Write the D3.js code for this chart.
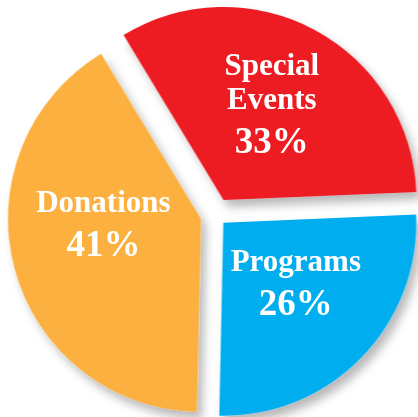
<!DOCTYPE html>
<html>
<head>
<meta charset="utf-8">
<script src="https://cdn.jsdelivr.net/npm/d3@7"></script>
<style>
html, body { margin: 0; padding: 0; background: #fff; overflow: hidden; }
</style>
</head>
<body>
<div id="chart"></div>
<script>
// Data
const CATEGORIES = ["Special Events", "Programs", "Donations"];
const VALUES = [33, 26, 41];
const PCT_LABELS = ["33%", "26%", "41%"];
const NAME_LINES = [["Special", "Events"], ["Programs"], ["Donations"]];
const COLORS = ["#ED1C24", "#00AEEF", "#FBB040"];

// Layout
const svgWidth = 418;
const svgHeight = 417;
const cx = 215.5;
const cy = 215;
const radius = 193;
const startAngle = -31.2 * Math.PI / 180;
const EXPLODE = [17, 11, 15];          // px each slice is pulled out
const LABEL_R = 100;
const LABEL_NUDGE = [[1, 2], [1, 0], [-1, -11]];

const svg = d3.select("#chart")
.append("svg")
.attr("width", svgWidth)
.attr("height", svgHeight);

// soft drop shadow under the slices
const filter = svg.append("defs").append("filter")
.attr("id", "shadow")
.attr("x", "-20%").attr("y", "-20%")
.attr("width", "140%").attr("height", "140%");

filter.append("feDropShadow")
.attr("dx", 5)
.attr("dy", 7)
.attr("stdDeviation", 5)
.attr("flood-color", "#000")
.attr("flood-opacity", 0.28);

const data = CATEGORIES.map((c, i) => ({
label: c,
value: VALUES[i],
pct: PCT_LABELS[i],
lines: NAME_LINES[i],
color: COLORS[i],
explode: EXPLODE[i],
nudge: LABEL_NUDGE[i]
}));

const pie = d3.pie()
.sort(null)
.value(d => d.value)
.startAngle(startAngle)
.endAngle(startAngle + 2 * Math.PI);

const arcs = pie(data);

const arc = d3.arc().innerRadius(0).outerRadius(radius);
const labelArc = d3.arc().innerRadius(0).outerRadius(LABEL_R * 2);

// offset of a slice along its bisector
function shift(d) {
const mid = (d.startAngle + d.endAngle) / 2;
return [Math.sin(mid) * d.data.explode, -Math.cos(mid) * d.data.explode];
}

const chart = svg.append("g")
.attr("transform", `translate(${cx},${cy})`);

// Slices
chart.append("g")
.attr("filter", "url(#shadow)")
.selectAll("path")
.data(arcs)
.enter()
.append("path")
.attr("transform", d => `translate(${shift(d)})`)
.attr("d", arc)
.attr("fill", d => d.data.color);

// Labels
const labels = chart.selectAll(".label")
.data(arcs)
.enter()
.append("g")
.attr("class", "label")
.attr("transform", d => {
const s = shift(d);
const c = labelArc.centroid(d);
return `translate(${c[0] + s[0] + d.data.nudge[0]},${c[1] + s[1] + d.data.nudge[1]})`;
})
.attr("font-family", "'Liberation Serif', 'Times New Roman', serif")
.attr("font-weight", 700)
.attr("fill", "#fff")
.attr("text-anchor", "middle");

labels.each(function(d) {
const g = d3.select(this);
const n = d.data.lines.length;
const baselines = d.data.lines.map((_, i) => i * 34);
const pctY = baselines[n - 1] + 44;
const mid = (baselines[0] + pctY) / 2;

d.data.lines.forEach((line, i) => {
g.append("text")
.attr("y", baselines[i] - mid)
.attr("font-size", 31)
.text(line);
});

g.append("text")
.attr("y", pctY - mid)
.attr("font-size", 37)
.text(d.data.pct);
});
</script>
</body>
</html>
